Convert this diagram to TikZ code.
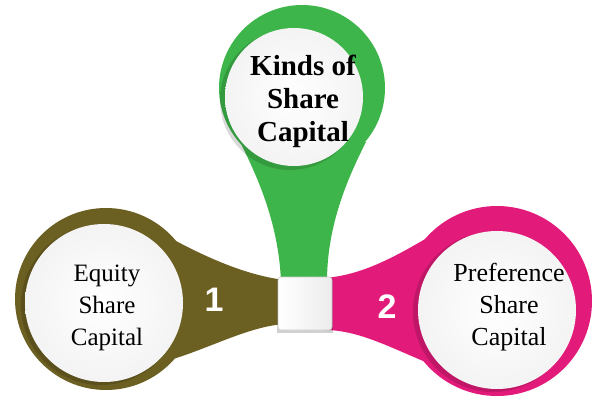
\documentclass[tikz,border=0pt]{standalone}
\usepackage{fontspec}
\setmainfont{Liberation Serif}
\newfontfamily\numfont{Liberation Sans}
\definecolor{pinGreen}{RGB}{61,181,74}
\definecolor{pinOlive}{RGB}{108,95,34}
\definecolor{pinPink}{RGB}{226,27,122}
\tikzset{
  disc/.style={inner color=white, outer color=gray!9},
  discshadow/.style={fill=black, opacity=0.15},
  label/.style={align=center, text=black, font=\fontsize{25}{32}\selectfont},
  numlabel/.style={text=white, font=\numfont\bfseries\fontsize{34}{34}\selectfont},
}
\begin{document}
\begin{tikzpicture}[x=1pt,y=1pt]
\useasboundingbox (0,0) rectangle (594,400);
% green pin
\fill[pinGreen] (281,118) .. controls (279,170) and (262,215) .. (240,258)
  -- (366,258) .. controls (344,215) and (327,170) .. (327,118) -- cycle;
\fill[pinGreen] (302,312) circle[radius=83];
% olive pin
\fill[pinOlive] (285,120) .. controls (250,124) and (210,140) .. (165,165)
  -- (170,40) .. controls (210,52) and (250,74) .. (285,76) -- cycle;
\fill[pinOlive] (106,101) circle[radius=91];
% pink pin
\fill[pinPink] (325,122) .. controls (360,125) and (390,140) .. (432,165)
  -- (433,35) .. controls (395,50) and (360,70) .. (325,70) -- cycle;
\fill[pinPink] (497,99) circle[radius=95];
% shadows
\fill[discshadow] (290,300) circle[radius=70];
\fill[discshadow] (101,95) circle[radius=80];
\fill[discshadow] (493,88) circle[radius=80];
% white discs
\shade[disc] (294,303) circle[radius=69];
\shade[disc] (104,97) circle[radius=79];
\shade[disc] (497,90) circle[radius=79];
% center square
\fill[black, opacity=0.18] (277,67) rectangle (333,121);
\node (sq) [draw=gray!40, line width=0.6pt, rounded corners=3pt, minimum width=54pt, minimum height=53pt,
  left color=white, right color=gray!15] at (305,96.5) {};
% texts
\node (t0) [label, font=\bfseries\fontsize{29}{33}\selectfont] at (303,299) {Kinds of\\Share\\Capital};
\node (t1) [label] at (107,92) {Equity\\Share\\Capital};
\node (t2) [label, font=\fontsize{26}{32}\selectfont] at (509,93) {Preference\\Share\\Capital};
\node (n1) [numlabel] at (214,100) {1};
\node (n2) [numlabel] at (387,93) {2};
\end{tikzpicture}
\end{document}
